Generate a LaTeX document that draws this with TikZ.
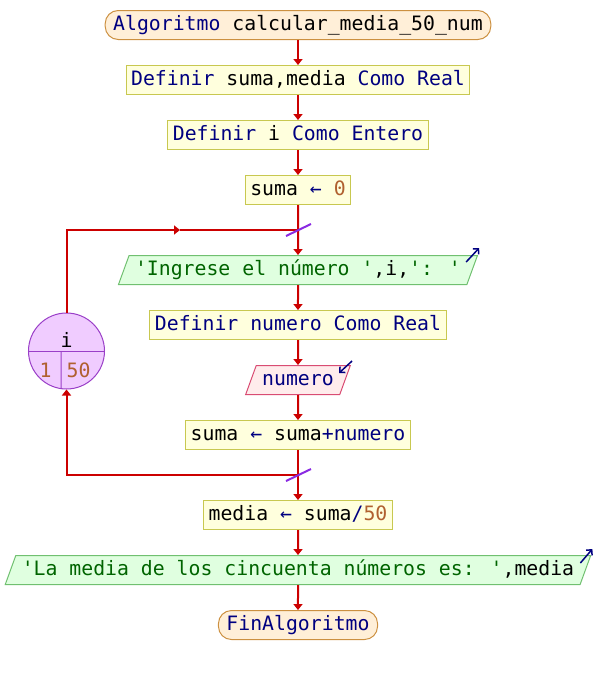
\documentclass[tikz,border=0pt]{standalone}
\usepackage{fontspec}
\usepackage{xcolor}
\newfontfamily\psfont{DejaVu Sans Mono}
\usetikzlibrary{arrows.meta, positioning, shapes.geometric}
\definecolor{kwblue}{HTML}{000080}
\definecolor{strgreen}{HTML}{006400}
\definecolor{numbrown}{HTML}{B0602F}
\definecolor{flowred}{HTML}{CC0000}
\definecolor{tickpurple}{HTML}{8A2BE2}
\definecolor{loopline}{HTML}{9A3FC8}
\definecolor{loopfill}{HTML}{F0CCFF}
\definecolor{termline}{HTML}{CC9040}
\definecolor{termfill}{HTML}{FFEFD8}
\definecolor{procline}{HTML}{C8C850}
\definecolor{procfill}{HTML}{FFFFDD}
\definecolor{ioline}{HTML}{70C070}
\definecolor{iofill}{HTML}{E0FFE0}
\newcommand{\kw}[1]{\textcolor{kwblue}{#1}}
\newcommand{\str}[1]{\textcolor{strgreen}{#1}}
\newcommand{\num}[1]{\textcolor{numbrown}{#1}}
\tikzstyle{terminal} = [rectangle, rounded corners=13pt, minimum height=29pt, inner xsep=8pt, inner ysep=4.5pt, text height=15pt, text depth=5pt, draw=termline, fill=termfill, line width=1pt]
\tikzstyle{process} = [rectangle, minimum height=29pt, inner xsep=5pt, inner ysep=4.5pt, text height=15pt, text depth=5pt, draw=procline, fill=procfill, line width=1pt]
\tikzstyle{io} = [trapezium, trapezium left angle=70, trapezium right angle=110, minimum height=29pt, inner xsep=6pt, inner ysep=4.5pt, text height=15pt, text depth=5pt, draw=ioline, fill=iofill, line width=1pt]
\tikzstyle{readio} = [io, draw=purple!60!pink, fill=pink!30]
\tikzstyle{loopnode} = [circle, minimum size=76pt, inner sep=0pt, draw=loopline, fill=loopfill, line width=1pt]
\tikzstyle{arrow} = [line width=2pt, draw=flowred, -{Triangle[length=6pt,width=9pt]}]
\tikzstyle{line} = [line width=2pt, draw=flowred]
\tikzstyle{tick} = [line width=2pt, draw=tickpurple]
\tikzstyle{icon} = [line width=1.5pt, draw=kwblue, -{Straight Barb[length=4pt,width=8pt]}]

\begin{document}
\begin{tikzpicture}[x=1pt, y=1pt, node distance=25pt, font=\psfont\fontsize{19.8pt}{24pt}\selectfont]
\useasboundingbox (0,0) rectangle (596,-675);
% Nodes
\node (start) [terminal] at (298,-25) {\kw{Algoritmo} calcular\_media\_50\_num};
\node (def1) [process, below=of start] {\kw{Definir} suma,media \kw{Como Real}};
\node (def2) [process, below=of def1] {\kw{Definir} i \kw{Como Entero}};
\node (init) [process, below=of def2] {suma \kw{←} \num{0}};
\coordinate[below=of init] (j1);
\node (ask) [io, below=of j1] {\str{'Ingrese el número '},i,\str{': '}};
\node (def3) [process, below=of ask] {\kw{Definir numero Como Real}};
\node (read) [readio, below=of def3] {\kw{numero}};
\node (acc) [process, below=of read] {suma \kw{←} suma\kw{+numero}};
\coordinate[below=of acc] (j2);
\node (avg) [process, below=of j2] {media \kw{←} suma\kw{/}\num{50}};
\node (show) [io, below=of avg] {\str{'La media de los cincuenta números es: '},media};
\node (fin) [terminal, below=of show] {\kw{FinAlgoritmo}};

% Loop counter
\node (loop) [loopnode] at (66.5,-351) {};
\draw [loopline, line width=1pt] (loop.west) -- (loop.east);
\draw [loopline, line width=1pt] ([xshift=-5.5pt]loop.center) -- (loop.262);
\node (loopvar) at ([yshift=11pt]loop.center) {i};
\node (loopfrom) at ([xshift=-21pt, yshift=-19pt]loop.center) {\num{1}};
\node (loopto) at ([xshift=12pt, yshift=-19pt]loop.center) {\num{50}};
\path (j1) ++(-118,0) coordinate (jm);

% Paths
\draw [arrow] (start) -- (def1);
\draw [arrow] (def1) -- (def2);
\draw [arrow] (def2) -- (init);
\draw [arrow] (init) -- (ask);
\draw [arrow] (ask) -- (def3);
\draw [arrow] (def3) -- (read);
\draw [arrow] (read) -- (acc);
\draw [arrow] (acc) -- (avg);
\draw [arrow] (avg) -- (show);
\draw [arrow] (show) -- (fin);
\draw [arrow] (loop.north) |- (jm);
\draw [line] (jm) -- (j1);
\draw [arrow] (j2) -| (loop.south);
\draw [tick] ([shift={(-12,-6)}]j1) -- ([shift={(13,6)}]j1);
\draw [tick] ([shift={(-12,-6)}]j2) -- ([shift={(13,6)}]j2);

% In/out marks
\draw [icon] ([shift={(-12,-7)}]ask.top right corner) -- ++(13,14);
\draw [icon] ([shift={(-11,-8)}]show.top right corner) -- ++(12,14);
\draw [icon] ([shift={(1,4)}]read.top right corner) -- ++(-13,-12);
\end{tikzpicture}
\end{document}
